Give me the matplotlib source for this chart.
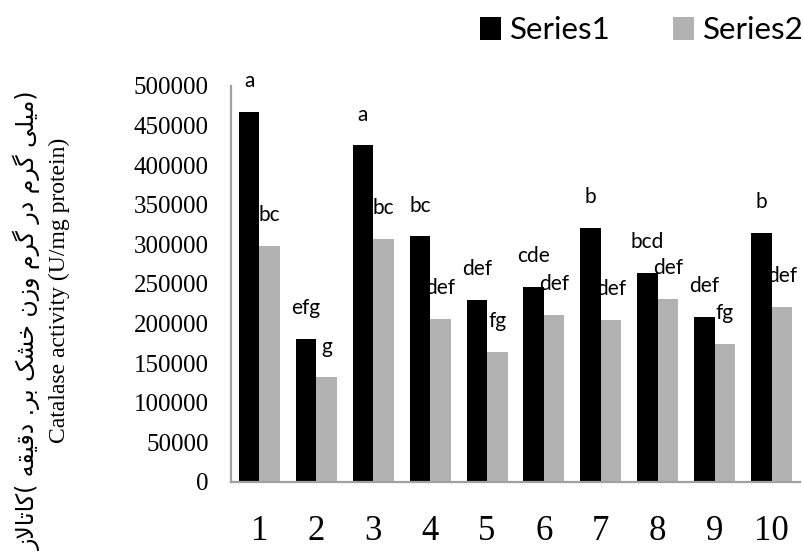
import matplotlib
matplotlib.use('Agg')
import matplotlib.pyplot as plt
from matplotlib.patches import Patch
import numpy as np

# values
categories = ['1', '2', '3', '4', '5', '6', '7', '8', '9', '10']
series1 = [467000, 181000, 425000, 310000, 230000, 246000, 321000, 264000, 208000, 314000]
series2 = [298000, 132000, 307000, 206000, 164000, 211000, 205000, 231000, 174000, 221000]
letters1 = ['a', 'efg', 'a', 'bc', 'def', 'cde', 'b', 'bcd', 'def', 'b']
letters2 = ['bc', 'g', 'bc', 'def', 'fg', 'def', 'def', 'def', 'fg', 'def']
y_ticks = [0, 50000, 100000, 150000, 200000, 250000, 300000, 350000, 400000, 450000, 500000]

label_en = 'Catalase activity (U/mg protein)'
# Persian label, words in the order they appear on the page (left to right)
label_fa_words = ['(کاتالاز', 'دقیقه', 'بر.', 'خشک', 'وزن', 'گرم', 'در', 'گرم', ')میلی']

# presentation forms: isolated, final, initial, medial
forms = {
    'ا': ('\uFE8D', '\uFE8E', None, None),
    'ب': ('\uFE8F', '\uFE90', '\uFE91', '\uFE92'),
    'ت': ('\uFE95', '\uFE96', '\uFE97', '\uFE98'),
    'خ': ('\uFEA5', '\uFEA6', '\uFEA7', '\uFEA8'),
    'د': ('\uFEA9', '\uFEAA', None, None),
    'ر': ('\uFEAD', '\uFEAE', None, None),
    'ز': ('\uFEAF', '\uFEB0', None, None),
    'ش': ('\uFEB5', '\uFEB6', '\uFEB7', '\uFEB8'),
    'ق': ('\uFED5', '\uFED6', '\uFED7', '\uFED8'),
    'ل': ('\uFEDD', '\uFEDE', '\uFEDF', '\uFEE0'),
    'م': ('\uFEE1', '\uFEE2', '\uFEE3', '\uFEE4'),
    'ن': ('\uFEE5', '\uFEE6', '\uFEE7', '\uFEE8'),
    'ه': ('\uFEE9', '\uFEEA', '\uFEEB', '\uFEEC'),
    'و': ('\uFEED', '\uFEEE', None, None),
    'ی': ('\uFBFC', '\uFBFD', '\uFBFE', '\uFBFF'),
    'ک': ('\uFB8E', '\uFB8F', '\uFB90', '\uFB91'),
    'گ': ('\uFB92', '\uFB93', '\uFB94', '\uFB95'),
}


def dual(ch):
    return ch in forms and forms[ch][2] is not None


def shape(word):
    # join letters and return them in visual (left to right) order
    out = []
    i = 0
    while i < len(word):
        ch = word[i]
        if ch not in forms:
            out.append(ch)
            i += 1
            continue
        prev = i > 0 and dual(word[i - 1])
        if ch == 'ل' and i + 1 < len(word) and word[i + 1] == 'ا':
            out.append('\uFEFC' if prev else '\uFEFB')
            i += 2
            continue
        nxt = dual(ch) and i + 1 < len(word) and word[i + 1] in forms
        iso, fin, ini, med = forms[ch]
        if prev and nxt:
            out.append(med)
        elif prev:
            out.append(fin)
        elif nxt:
            out.append(ini)
        else:
            out.append(iso)
        i += 1
    return ''.join(reversed(out))


label_fa = ' '.join(shape(w) for w in label_fa_words)

black = '#000000'
grey = '#b2b2b2'
spine = '#a0a0a0'

fig = plt.figure(figsize=(8.04, 5.58), dpi=100)
ax = fig.add_axes([231 / 804, 1 - 482 / 558, 569 / 804, 396 / 558])

x = np.arange(1, len(categories) + 1)
w = 0.36
b1 = ax.bar(x - w / 2, series1, w, color=black)
b2 = ax.bar(x + w / 2, series2, w, color=grey)

lab_font = dict(family='Lato', size=15)
ax.bar_label(b1, labels=letters1, padding=15, **lab_font)
ax.bar_label(b2, labels=letters2, padding=15, **lab_font)

ax.set_xlim(0.5, 10.5)
ax.set_ylim(0, 500000)
ax.set_yticks(y_ticks)
ax.set_yticklabels([str(v) for v in y_ticks], family='Liberation Serif', fontsize=18)
ax.set_xticks(x)
ax.set_xticklabels(categories, family='Liberation Serif', fontsize=25)
ax.tick_params(axis='y', length=0, pad=16)
ax.tick_params(axis='x', length=0, pad=24)

for s in ['top', 'right']:
    ax.spines[s].set_visible(False)
for s in ['left', 'bottom']:
    ax.spines[s].set_color(spine)
    ax.spines[s].set_linewidth(1.6)

fig.text(59 / 804, 1 - 290 / 558, label_en, rotation=90, ha='center', va='center',
         family='Liberation Serif', fontsize=17)
fig.text(27 / 804, 1 - 90 / 558, label_fa, rotation=90, ha='center', va='top',
         family=['DejaVu Sans'], fontsize=17)

handles = [Patch(facecolor=black), Patch(facecolor=grey)]
fig.legend(handles, ['Series1', 'Series2'], loc='center right', ncol=2,
           bbox_to_anchor=(1.0, 1 - 30 / 558), frameon=False, borderpad=0,
           borderaxespad=0, handlelength=0.65, handleheight=0.75,
           handletextpad=0.3, columnspacing=2.0, prop=dict(family='Lato', size=22.5))

fig.savefig('out.png', dpi=100)
